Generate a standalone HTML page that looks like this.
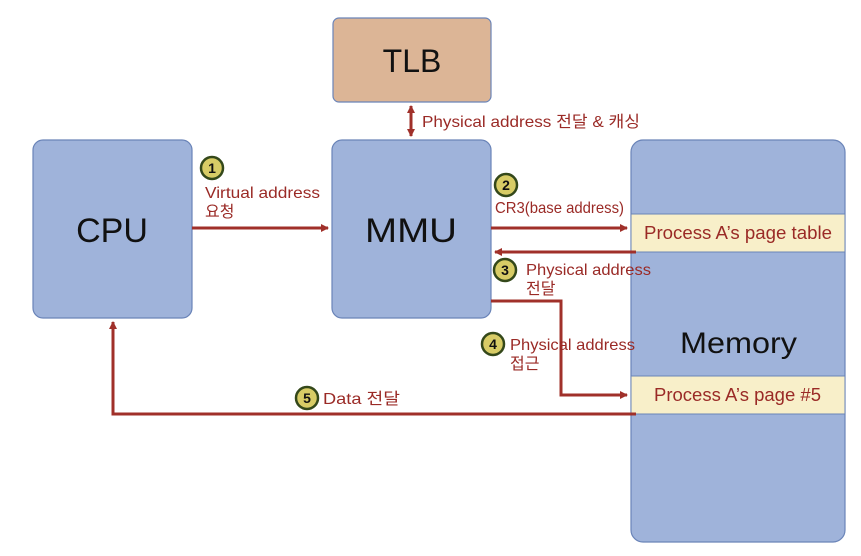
<!DOCTYPE html>
<html><head><meta charset="utf-8"><style>
body{margin:0;background:#fff;}
svg text{font-family:"Liberation Sans","Noto Sans CJK KR",sans-serif;}
</style></head><body>
<svg width="861" height="551" viewBox="0 0 861 551" xmlns="http://www.w3.org/2000/svg">
<defs>
<marker id="a" markerWidth="8" markerHeight="8" refX="7" refY="4" orient="auto" markerUnits="userSpaceOnUse"><path d="M0,0L8,4L0,8z" fill="#a0302a"/></marker>
</defs>
<g stroke="#6a84b8" stroke-width="1.2" fill="#9fb3da">
<rect x="33" y="140" width="159" height="178" rx="10"/>
<rect x="332" y="140" width="159" height="178" rx="10"/>
<rect x="631" y="140" width="214" height="402" rx="12"/>
</g>
<rect x="333" y="18" width="158" height="84" rx="6" fill="#dcb596" stroke="#6a84b8" stroke-width="1.2"/>
<rect x="631" y="214" width="214" height="38" fill="#f8efc9" stroke="#6a84b8" stroke-width="1"/>
<rect x="631" y="376" width="214" height="38" fill="#f8efc9" stroke="#6a84b8" stroke-width="1"/>
<g fill="#111" font-size="34">
<text x="112" y="242" text-anchor="middle">CPU</text>
<text x="365" y="242" textLength="92" lengthAdjust="spacingAndGlyphs">MMU</text>
<text x="412" y="72" font-size="32" text-anchor="middle">TLB</text>
<text x="680" y="353" font-size="30" textLength="117" lengthAdjust="spacingAndGlyphs">Memory</text>
</g>
<g fill="#9a2a26" font-size="18">
<text x="644" y="239" textLength="188" lengthAdjust="spacingAndGlyphs">Process A’s page table</text>
<text x="654" y="401" textLength="167" lengthAdjust="spacingAndGlyphs">Process A’s page #5</text>
</g>
<g stroke="#a0302a" stroke-width="3" fill="none">
<line x1="192" y1="228" x2="328" y2="228" marker-end="url(#a)"/>
<line x1="491" y1="228" x2="627" y2="228" marker-end="url(#a)"/>
<line x1="636" y1="252" x2="495" y2="252" marker-end="url(#a)"/>
<polyline points="491,301 561,301 561,395 627,395" marker-end="url(#a)"/>
<polyline points="636,414 113,414 113,322" marker-end="url(#a)"/>
<line x1="411" y1="108" x2="411" y2="136" marker-end="url(#a)"/>
<line x1="411" y1="134" x2="411" y2="106" marker-end="url(#a)"/>
</g>
<g fill="#d8cc66" stroke="#34481a" stroke-width="2.5">
<circle cx="212" cy="168" r="11"/>
<circle cx="506" cy="185" r="11"/>
<circle cx="505" cy="270" r="11"/>
<circle cx="493" cy="344" r="11"/>
<circle cx="307" cy="398" r="11"/>
</g>
<g fill="#111" font-size="14" font-weight="bold" text-anchor="middle">
<text x="212" y="173">1</text><text x="506" y="190">2</text><text x="505" y="275">3</text><text x="493" y="349">4</text><text x="307" y="403">5</text>
</g>
<g fill="#9a2a26" font-size="16">
<text x="422" y="127" textLength="218" lengthAdjust="spacingAndGlyphs">Physical address 전달 &amp; 캐싱</text>
<text x="205" y="198" textLength="115" lengthAdjust="spacingAndGlyphs">Virtual address</text>
<text x="205" y="217">요청</text>
<text x="495" y="213" textLength="129" lengthAdjust="spacingAndGlyphs">CR3(base address)</text>
<text x="526" y="275" textLength="125" lengthAdjust="spacingAndGlyphs">Physical address</text>
<text x="526" y="294">전달</text>
<text x="510" y="350" textLength="125" lengthAdjust="spacingAndGlyphs">Physical address</text>
<text x="510" y="369">접근</text>
<text x="323" y="404" textLength="77" lengthAdjust="spacingAndGlyphs">Data 전달</text>
</g>
</svg>
</body></html>
